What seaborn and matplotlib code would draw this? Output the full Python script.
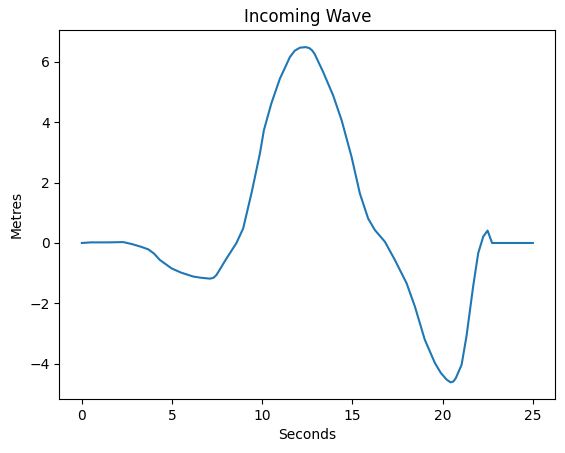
import numpy as np
import pandas as pd
import matplotlib
matplotlib.use('Agg')
import matplotlib.pyplot as plt
import seaborn as sns

# wave record
seconds = [0.0, 0.5, 1.0, 1.5, 2.29, 2.8, 3.3, 3.68, 4.0, 4.32, 4.97, 5.5, 6.17, 6.6, 7.1,
           7.3, 7.46, 8.02, 8.57, 8.94, 9.4, 9.87, 10.09, 10.5, 10.98, 11.3, 11.53, 11.8,
           12.08, 12.4, 12.6, 12.75, 12.9, 13.38, 13.93, 14.4, 14.95, 15.41, 15.87, 16.24,
           16.8, 17.35, 18.0, 18.46, 19.01, 19.57, 19.9, 20.22, 20.44, 20.6, 20.73, 21.05,
           21.32, 21.69, 21.97, 22.25, 22.49, 22.74, 23.5, 24.25, 25.0]
metres = [0.0, 0.02, 0.02, 0.02, 0.03, -0.04, -0.13, -0.21, -0.35, -0.56, -0.84, -0.98,
          -1.11, -1.15, -1.18, -1.15, -1.06, -0.51, 0.0, 0.48, 1.64, 2.96, 3.73, 4.61, 5.44,
          5.85, 6.15, 6.36, 6.46, 6.48, 6.45, 6.38, 6.26, 5.65, 4.88, 4.06, 2.85, 1.64, 0.81,
          0.43, 0.04, -0.56, -1.33, -2.1, -3.2, -3.97, -4.3, -4.52, -4.61, -4.58, -4.47,
          -4.03, -3.09, -1.44, -0.34, 0.21, 0.41, 0.0, 0.0, 0.0, 0.0]

wave_df = pd.DataFrame({'Seconds': seconds, 'Metres': metres})

fig, ax = plt.subplots(figsize=(5.65, 4.53), dpi=100)
fig.subplots_adjust(left=0.105, right=0.983, top=0.933, bottom=0.119)

sns.lineplot(data=wave_df, x='Seconds', y='Metres', color='#1f77b4', ax=ax)
ax.set_title('Incoming Wave')
ax.set_xlabel('Seconds')
ax.set_ylabel('Metres')

fig.savefig('out.png', dpi=100)
